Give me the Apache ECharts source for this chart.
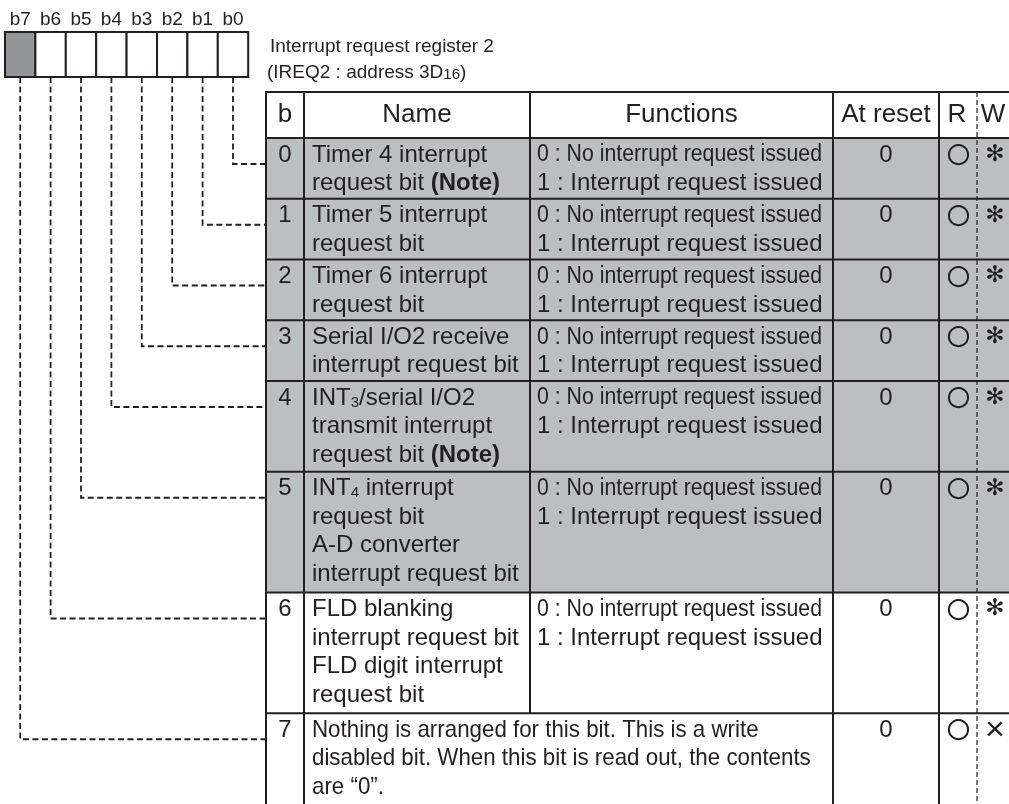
<!DOCTYPE html>
<html><head><meta charset="utf-8">
<script src="https://cdn.jsdelivr.net/npm/echarts@6/dist/echarts.min.js"></script>
<style>html,body{margin:0;padding:0;background:#fff}#c{width:1009px;height:804px}</style>
</head><body><div id="c"></div>
<script>
// ---------- data ----------
const bitLabels = ['b7', 'b6', 'b5', 'b4', 'b3', 'b2', 'b1', 'b0'];
const titleLines = ['Interrupt request register 2', '(IREQ2 : address 3D{s|16})'];
const headers = ['b', 'Name', 'Functions', 'At reset', 'R', 'W'];
const bitNumbers = ['0', '1', '2', '3', '4', '5', '6', '7'];
const nameLines = [
  ['Timer 4 interrupt', 'request bit {b|(Note)}'],
  ['Timer 5 interrupt', 'request bit'],
  ['Timer 6 interrupt', 'request bit'],
  ['Serial I/O2 receive', 'interrupt request bit'],
  ['INT{s|3}/serial I/O2', 'transmit interrupt', 'request bit {b|(Note)}'],
  ['INT{s|4} interrupt', 'request bit', 'A-D converter', 'interrupt request bit'],
  ['FLD blanking', 'interrupt request bit', 'FLD digit interrupt', 'request bit'],
  ['Nothing is arranged for this bit. This is a write', 'disabled bit. When this bit is read out, the contents', 'are \u201c0\u201d.']
];
const functionLines = [
  ['0 : No interrupt request issued', '1 : Interrupt request issued'],
  ['0 : No interrupt request issued', '1 : Interrupt request issued'],
  ['0 : No interrupt request issued', '1 : Interrupt request issued'],
  ['0 : No interrupt request issued', '1 : Interrupt request issued'],
  ['0 : No interrupt request issued', '1 : Interrupt request issued'],
  ['0 : No interrupt request issued', '1 : Interrupt request issued'],
  ['0 : No interrupt request issued', '1 : Interrupt request issued'],
  []
];
const resetValues = ['0', '0', '0', '0', '0', '0', '0', '0'];
const readMarks = ['\u25cb', '\u25cb', '\u25cb', '\u25cb', '\u25cb', '\u25cb', '\u25cb', '\u25cb'];
const writeMarks = ['\u273b', '\u273b', '\u273b', '\u273b', '\u273b', '\u273b', '\u273b', '\u00d7'];
const shadedRows = [true, true, true, true, true, true, false, false];
const unusedBits = ['b7'];

// ---------- style / layout ----------
const FONT = '"Liberation Sans", Arial, Helvetica, sans-serif';
const INK = '#231f20';
const SHADE = '#bcbec0';
const DARK = '#939598';
const L = {
  regX: 5, regY: 32, regH: 45, cellW: 30.4,
  col: [266, 304, 530, 833, 939, 977, 1012],
  headTop: 92, headBot: 138, perLine: 30, rowExtra: 0.75,
  first: 17, lh: 28.5, conn: 26, bottom: 812
};
const RICH = {
  b: { fontWeight: 'bold', fontSize: 24, fontFamily: FONT, fill: INK },
  s: { fontSize: 15, fontFamily: FONT, fill: INK, verticalAlign: 'bottom' }
};

function txt(x, y, text, o) {
  o = o || {};
  const al = o.align || 'left';
  return {
    type: 'text', x: x, y: y, z: 20, scaleX: o.scaleX || 1, silent: true,
    style: {
      text: text, fill: INK, fontFamily: o.family || FONT, fontSize: o.size || 24,
      fontWeight: o.weight || 'normal',
      textAlign: al, align: al, textVerticalAlign: 'middle', verticalAlign: 'middle',
      rich: RICH
    }
  };
}
function line(x1, y1, x2, y2, o) {
  o = o || {};
  return {
    type: 'line', z: o.z || 10, silent: true,
    shape: { x1: x1, y1: y1, x2: x2, y2: y2 },
    style: { stroke: INK, lineWidth: o.w || 2, lineDash: o.dash || null }
  };
}

const els = [];

// register boxes
bitLabels.forEach(function (lab, j) {
  const x = L.regX + L.cellW * j;
  els.push({
    type: 'rect', z: 12, silent: true,
    shape: { x: x, y: L.regY, width: L.cellW, height: L.regH },
    style: { fill: unusedBits.indexOf(lab) >= 0 ? DARK : '#fff', stroke: INK, lineWidth: 2 }
  });
  els.push(txt(x + L.cellW / 2, 20, lab, { align: 'center', size: 19 }));
});

// title
els.push(txt(270, 47, titleLines[0], { size: 19 }));
els.push(txt(267, 73, titleLines[1], { size: 19 }));

// rows
const tops = [];
let y = L.headBot;
bitNumbers.forEach(function (b, i) {
  const n = Math.max(nameLines[i].length, functionLines[i].length);
  const h = L.perLine * n + L.rowExtra;
  const spanning = functionLines[i].length === 0;
  tops.push(y);
  if (shadedRows[i]) {
    els.push({ type: 'rect', z: 1, silent: true,
      shape: { x: L.col[0], y: y, width: L.col[6] - L.col[0], height: h },
      style: { fill: SHADE } });
  }
  els.push(line(L.col[0], y, L.col[6], y));
  const c0 = y + L.first;
  els.push(txt((L.col[0] + L.col[1]) / 2, c0, b, { align: 'center' }));
  nameLines[i].forEach(function (t, k) {
    els.push(txt(L.col[1] + 8, c0 + L.lh * k, t, spanning ? { scaleX: 0.93 } : {}));
  });
  functionLines[i].forEach(function (t, k) {
    const narrow = k === 0;
    els.push(txt(L.col[2] + 7, c0 + L.lh * k, t, narrow ? { scaleX: 0.925, size: 23 } : {}));
  });
  els.push(txt((L.col[3] + L.col[4]) / 2, c0, resetValues[i], { align: 'center' }));
  els.push(txt(958.5, c0 + 1, readMarks[i], { align: 'center', size: 48 }));
  const wIsX = writeMarks[i] === '\u00d7';
  els.push(txt(995, c0, writeMarks[i], {
    align: 'center', size: wIsX ? 34 : 23, family: wIsX ? FONT : '"DejaVu Sans", sans-serif'
  }));
  // connector from register bit to row
  const j = 7 - i;
  const cx = L.regX + L.cellW * (j + 0.5);
  const cy = y + L.conn;
  els.push({
    type: 'polyline', z: 5, silent: true,
    shape: { points: [[cx, L.regY + L.regH], [cx, cy], [L.col[0], cy]] },
    style: { stroke: INK, lineWidth: 1.8, lineDash: [6, 3.5], fill: null }
  });
  y += h;
});
const row7Top = tops[7];

// header
els.push(line(L.col[0], L.headTop, L.col[6], L.headTop));
const hc = (L.headTop + L.headBot) / 2;
const hx = [(L.col[0] + L.col[1]) / 2, (L.col[1] + L.col[2]) / 2, (L.col[2] + L.col[3]) / 2,
  (L.col[3] + L.col[4]) / 2, (L.col[4] + L.col[5]) / 2 - 1, 993];
headers.forEach(function (h, k) {
  els.push(txt(hx[k], hc, h, { align: 'center', size: 26 }));
});

// vertical rules
els.push(line(L.col[0], L.headTop - 1, L.col[0], L.bottom));
els.push(line(L.col[1], L.headTop, L.col[1], L.bottom));
els.push(line(L.col[2], L.headTop, L.col[2], row7Top));
els.push(line(L.col[3], L.headTop, L.col[3], L.bottom));
els.push(line(L.col[4], L.headTop, L.col[4], L.bottom));
els.push(line(L.col[5], L.headTop, L.col[5], L.bottom, { w: 1.2, dash: [5, 3] }));

const chart = echarts.init(document.getElementById('c'), null, { renderer: 'canvas' });
chart.setOption({ animation: false, backgroundColor: '#fff', graphic: { elements: els } });
</script></body></html>
